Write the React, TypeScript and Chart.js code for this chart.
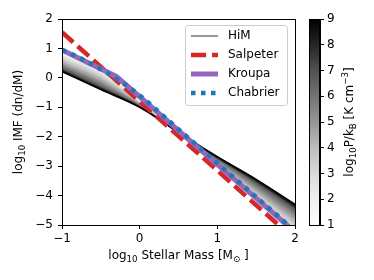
import React, { useEffect, useRef } from 'react';
import { Chart, registerables } from 'chart.js';

Chart.register(...registerables);

// ---------- data ----------
const massX = [-1, -0.5, 0, 0.5, 1, 1.5, 2];
const himP10 = [0.88, 0.30, -0.75, -1.95, -3.10, -4.25, -5.40];
const himP15 = [0.83, 0.25, -0.77, -1.94, -3.07, -4.19, -5.32];
const himP20 = [0.78, 0.20, -0.79, -1.94, -3.04, -4.13, -5.24];
const himP25 = [0.72, 0.13, -0.81, -1.93, -3.00, -4.06, -5.14];
const himP30 = [0.67, 0.08, -0.83, -1.92, -2.97, -4.00, -5.06];
const himP35 = [0.61, 0.02, -0.85, -1.91, -2.93, -3.93, -4.96];
const himP40 = [0.56, -0.03, -0.87, -1.90, -2.90, -3.87, -4.87];
const himP45 = [0.50, -0.10, -0.89, -1.89, -2.86, -3.80, -4.78];
const himP50 = [0.45, -0.15, -0.91, -1.89, -2.83, -3.74, -4.69];
const himP55 = [0.40, -0.20, -0.93, -1.88, -2.80, -3.68, -4.61];
const himP60 = [0.36, -0.24, -0.94, -1.87, -2.77, -3.63, -4.55];
const himP65 = [0.32, -0.29, -0.96, -1.87, -2.75, -3.58, -4.48];
const himP70 = [0.29, -0.32, -0.97, -1.86, -2.73, -3.55, -4.43];
const himP75 = [0.27, -0.34, -0.98, -1.86, -2.72, -3.52, -4.40];
const himP80 = [0.25, -0.36, -0.985, -1.86, -2.71, -3.50, -4.37];
const himP85 = [0.23, -0.38, -0.99, -1.85, -2.69, -3.47, -4.33];
const himP90 = [0.21, -0.40, -1.00, -1.85, -2.68, -3.45, -4.30];
const himSeries = [himP10, himP15, himP20, himP25, himP30, himP35, himP40, himP45, himP50,
  himP55, himP60, himP65, himP70, himP75, himP80, himP85, himP90];
const pressures = [1, 1.5, 2, 2.5, 3, 3.5, 4, 4.5, 5, 5.5, 6, 6.5, 7, 7.5, 8, 8.5, 9];
const greys = ['#ffffff', '#f7f7f7', '#f0f0f0', '#e5e5e5', '#d9d9d9', '#cbcbcb', '#bdbdbd', '#a9a9a9', '#969696',
  '#848484', '#737373', '#626262', '#525252', '#3b3b3b', '#252525', '#121212', '#000000'];

const salpeterX = [-1, 2];
const salpeterY = [1.55, -5.5];
const kroupaX = [-1, -0.3, 2];
const kroupaY = [0.95, 0.05, -5.24];
const chabrierX = [-1, -0.75, -0.5, -0.25, 0, 0.5, 1, 1.5, 2];
const chabrierY = [0.95, 0.65, 0.29, -0.12, -0.60, -1.75, -2.90, -4.05, -5.20];

const xTicks = [-1, 0, 1, 2];
const yTicks = [-5, -4, -3, -2, -1, 0, 1, 2];
const cbTicks = [1, 2, 3, 4, 5, 6, 7, 8, 9];

const legendLabels = ['HiM', 'Salpeter', 'Kroupa', 'Chabrier'];

// ---------- helpers ----------
const FAM = '"DejaVu Sans", sans-serif';
const fmt = (v: number) => (v < 0 ? '\u2212' + Math.abs(v) : String(v));
const pts = (xs: number[], ys: number[]) => xs.map((x, i) => ({ x, y: ys[i] }));

type Seg = { t: string; k?: 'sub' | 'sup' };
function drawRich(ctx: CanvasRenderingContext2D, segs: Seg[], x: number, y: number, rot: number, size = 12) {
  const small = size * 0.72;
  ctx.save();
  ctx.translate(x, y);
  ctx.rotate(rot);
  let total = 0;
  const widths = segs.map((s) => {
    ctx.font = `${s.k ? small : size}px ${FAM}`;
    const w = ctx.measureText(s.t).width;
    total += w;
    return w;
  });
  let cx = -total / 2;
  ctx.textBaseline = 'middle';
  ctx.textAlign = 'left';
  ctx.fillStyle = '#000';
  segs.forEach((s, i) => {
    ctx.font = `${s.k ? small : size}px ${FAM}`;
    const dy = s.k === 'sub' ? size * 0.3 : s.k === 'sup' ? -size * 0.35 : 0;
    ctx.fillText(s.t, cx, dy);
    cx += widths[i];
  });
  ctx.restore();
}

export default function App() {
  const mainRef = useRef<HTMLCanvasElement>(null);
  const cbRef = useRef<HTMLCanvasElement>(null);

  useEffect(() => {
    document.body.style.margin = '0';
    Chart.defaults.font.family = FAM;
    Chart.defaults.font.size = 12;
    Chart.defaults.color = '#000';

    const himDatasets = himSeries.map((ys, i) => ({
      label: 'HiM P=' + pressures[i],
      data: pts(massX, ys),
      borderColor: greys[i],
      backgroundColor: greys[i],
      borderWidth: i === himSeries.length - 1 ? 1.5 : 1,
      pointRadius: 0,
      cubicInterpolationMode: 'monotone' as const,
      fill: i === 0 ? false : '-1',
      order: 40 - i,
      clip: 0,
    }));

    const main = new Chart(mainRef.current!, {
      type: 'line',
      data: {
        datasets: [
          ...himDatasets,
          {
            label: legendLabels[1],
            data: pts(salpeterX, salpeterY),
            borderColor: '#d62728',
            borderWidth: 4.5,
            borderDash: [15, 6],
            pointRadius: 0,
            fill: false,
            order: 3,
            clip: 0,
          },
          {
            label: legendLabels[2],
            data: pts(kroupaX, kroupaY),
            borderColor: '#9467bd',
            borderWidth: 5,
            pointRadius: 0,
            fill: false,
            order: 2,
            clip: 0,
          },
          {
            label: legendLabels[3],
            data: pts(chabrierX, chabrierY),
            borderColor: '#1f77b4',
            borderWidth: 4.5,
            borderDash: [4.5, 5.5],
            pointRadius: 0,
            cubicInterpolationMode: 'monotone',
            fill: false,
            order: 1,
            clip: 0,
          },
        ] as any,
      },
      options: {
        responsive: false,
        animation: false,
        devicePixelRatio: 1,
        layout: { padding: { left: 0, top: 19, right: 79, bottom: 0 } },
        plugins: { legend: { display: false }, tooltip: { enabled: false } },
        scales: {
          x: {
            type: 'linear',
            min: -1,
            max: 2,
            afterBuildTicks: (s: any) => { s.ticks = xTicks.map((v) => ({ value: v })); },
            ticks: { callback: (v: any) => fmt(Number(v)), padding: 3, maxRotation: 0, color: '#000', font: { size: 12 } },
            grid: { display: true, drawOnChartArea: false, drawTicks: true, tickLength: 4, color: '#000' },
            border: { display: true, color: '#000' },
            afterFit: (s: any) => { s.height = 55; },
          },
          y: {
            type: 'linear',
            min: -5,
            max: 2,
            afterBuildTicks: (s: any) => { s.ticks = yTicks.map((v) => ({ value: v })); },
            ticks: { callback: (v: any) => fmt(Number(v)), padding: 5, color: '#000', font: { size: 12 } },
            grid: { display: true, drawOnChartArea: false, drawTicks: true, tickLength: 4, color: '#000' },
            border: { display: true, color: '#000' },
            afterFit: (s: any) => { s.width = 62; },
          },
        },
      },
      plugins: [
        {
          id: 'frameAndText',
          afterDatasetsDraw(chart: any) {
            const { ctx, chartArea: a } = chart;
            ctx.save();
            ctx.strokeStyle = '#000';
            ctx.lineWidth = 1;
            ctx.strokeRect(a.left + 0.5, a.top + 0.5, a.right - a.left, a.bottom - a.top);
            ctx.restore();
          },
          afterDraw(chart: any) {
            const { ctx, chartArea: a } = chart;
            drawRich(ctx, [{ t: 'log' }, { t: '10', k: 'sub' }, { t: ' IMF (dn/dM)' }], 19, (a.top + a.bottom) / 2, -Math.PI / 2);
            drawRich(
              ctx,
              [{ t: 'log' }, { t: '10', k: 'sub' }, { t: ' Stellar Mass [M' }, { t: '\u2299', k: 'sub' }, { t: ' ]' }],
              (a.left + a.right) / 2,
              256,
              0
            );
            const bx = 185.5, by = 25.5, bw = 102, bh = 80;
            ctx.save();
            ctx.beginPath();
            (ctx as any).roundRect(bx, by, bw, bh, 3);
            ctx.fillStyle = 'rgba(255,255,255,0.8)';
            ctx.fill();
            ctx.strokeStyle = '#cccccc';
            ctx.lineWidth = 1;
            ctx.stroke();
            const styles = [
              { c: '#999999', w: 2, d: [] as number[] },
              { c: '#d62728', w: 4.5, d: [15, 6] },
              { c: '#9467bd', w: 5, d: [] as number[] },
              { c: '#1f77b4', w: 4.5, d: [4.5, 5.5] },
            ];
            const rows = [36, 55, 74, 93];
            legendLabels.forEach((lab, i) => {
              const s = styles[i];
              ctx.beginPath();
              ctx.setLineDash(s.d);
              ctx.lineCap = 'butt';
              ctx.strokeStyle = s.c;
              ctx.lineWidth = s.w;
              ctx.moveTo(191, rows[i]);
              ctx.lineTo(218, rows[i]);
              ctx.stroke();
              ctx.setLineDash([]);
              ctx.fillStyle = '#000';
              ctx.font = `12px ${FAM}`;
              ctx.textBaseline = 'middle';
              ctx.textAlign = 'left';
              ctx.fillText(lab, 228, rows[i]);
            });
            ctx.restore();
          },
        },
      ],
    });

    const cb = new Chart(cbRef.current!, {
      type: 'bar',
      data: {
        labels: ['P'],
        datasets: [
          {
            data: [[cbTicks[0], cbTicks[cbTicks.length - 1]]] as any,
            barPercentage: 1,
            categoryPercentage: 1,
            borderWidth: 0,
            backgroundColor: (c: any) => {
              const a = c.chart.chartArea;
              if (!a) return '#888';
              const g = c.chart.ctx.createLinearGradient(0, a.bottom, 0, a.top);
              greys.forEach((col, i) => g.addColorStop(i / (greys.length - 1), col));
              return g;
            },
          },
        ],
      },
      options: {
        responsive: false,
        animation: false,
        devicePixelRatio: 1,
        layout: { padding: { left: 309, top: 19, right: 0, bottom: 55 } },
        plugins: { legend: { display: false }, tooltip: { enabled: false } },
        scales: {
          x: { display: false },
          y: {
            position: 'right',
            min: 1,
            max: 9,
            afterBuildTicks: (s: any) => { s.ticks = cbTicks.map((v) => ({ value: v })); },
            ticks: { padding: 3, color: '#000', font: { size: 12 } },
            grid: { display: true, drawOnChartArea: false, drawTicks: true, tickLength: 4, color: '#000' },
            border: { display: true, color: '#000' },
            afterFit: (s: any) => { s.width = 54; },
          },
        },
      },
      plugins: [
        {
          id: 'cbFrame',
          afterDraw(chart: any) {
            const { ctx, chartArea: a } = chart;
            ctx.save();
            ctx.strokeStyle = '#000';
            ctx.lineWidth = 1;
            ctx.strokeRect(a.left + 0.5, a.top + 0.5, a.right - a.left - 1, a.bottom - a.top);
            ctx.restore();
            drawRich(
              ctx,
              [{ t: 'log' }, { t: '10', k: 'sub' }, { t: 'P/k' }, { t: 'B', k: 'sub' }, { t: ' [K cm' }, { t: '\u22123', k: 'sup' }, { t: ']' }],
              350,
              (a.top + a.bottom) / 2,
              -Math.PI / 2
            );
          },
        },
      ],
    });

    return () => {
      main.destroy();
      cb.destroy();
    };
  }, []);

  return (
    <div style={{ position: 'relative', width: 374, height: 280 }}>
      <canvas ref={mainRef} width={374} height={280} style={{ position: 'absolute', left: 0, top: 0 }} />
      <canvas ref={cbRef} width={374} height={280} style={{ position: 'absolute', left: 0, top: 0, pointerEvents: 'none' }} />
    </div>
  );
}
